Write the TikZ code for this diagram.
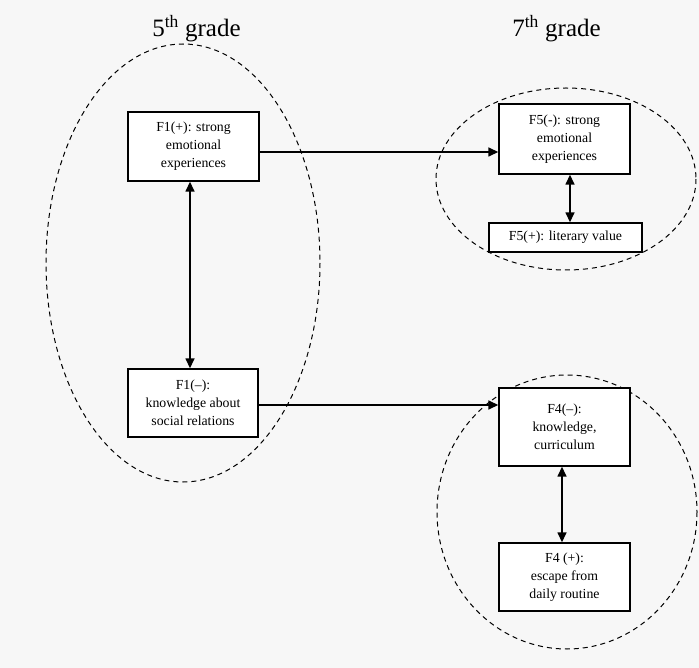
\documentclass[tikz,border=0pt]{standalone}
\usepackage{fontspec}
\setmainfont{Liberation Serif}
\usetikzlibrary{arrows.meta}
\begin{document}
\begin{tikzpicture}[x=1pt,y=-1pt,
  factor/.style={draw,line width=1.4pt,align=center,font=\fontsize{13.8}{18}\selectfont,inner sep=0pt,fill=white},
  group/.style={draw,line width=1pt,dash pattern=on 5pt off 4pt},
  tip/.tip={Triangle[length=10pt,width=9pt]},
  link/.style={line width=1.5pt,-tip},
  both/.style={line width=1.5pt,tip-tip},
  title/.style={font=\fontsize{25}{28}\selectfont}]
\path[use as bounding box,fill=black!3] (0,0) rectangle (699,668);
\node[title] (t5) at (196.5,29) {5\textsuperscript{th} grade};
\node[title] (t7) at (556.5,29) {7\textsuperscript{th} grade};
\draw[group] (183,263) ellipse[x radius=137,y radius=219];
\draw[group] (566,179) ellipse[x radius=130,y radius=91];
\draw[group] (567,512) ellipse[x radius=130,y radius=137];
\node[factor,minimum width=131,minimum height=69] (f1p) at (193.5,146.5) {F1(+): strong\\emotional\\experiences};
\node[factor,minimum width=130,minimum height=68] (f1m) at (193,403) {F1(--):\\knowledge about\\social relations};
\node[factor,minimum width=131,minimum height=70] (f5m) at (564.5,139) {F5(-): strong\\emotional\\experiences};
\node[factor,minimum width=153,minimum height=29] (f5p) at (565.5,237.5) {F5(+): literary value};
\node[factor,minimum width=131,minimum height=78] (f4m) at (564.5,427) {F4(--):\\knowledge,\\curriculum};
\node[factor,minimum width=131,minimum height=68] (f4p) at (564.5,577) {F4 (+):\\escape from\\daily routine};
\draw[link] (f1p.east|-0,152) -- (f5m.west|-0,152);
\draw[link] (f1m.east|-0,405) -- (f4m.west|-0,405);
\draw[both] (190,0|-f1p.south) -- (190,0|-f1m.north);
\draw[both] (570,0|-f5m.south) -- (570,0|-f5p.north);
\draw[both] (562,0|-f4m.south) -- (562,0|-f4p.north);
\end{tikzpicture}
\end{document}
